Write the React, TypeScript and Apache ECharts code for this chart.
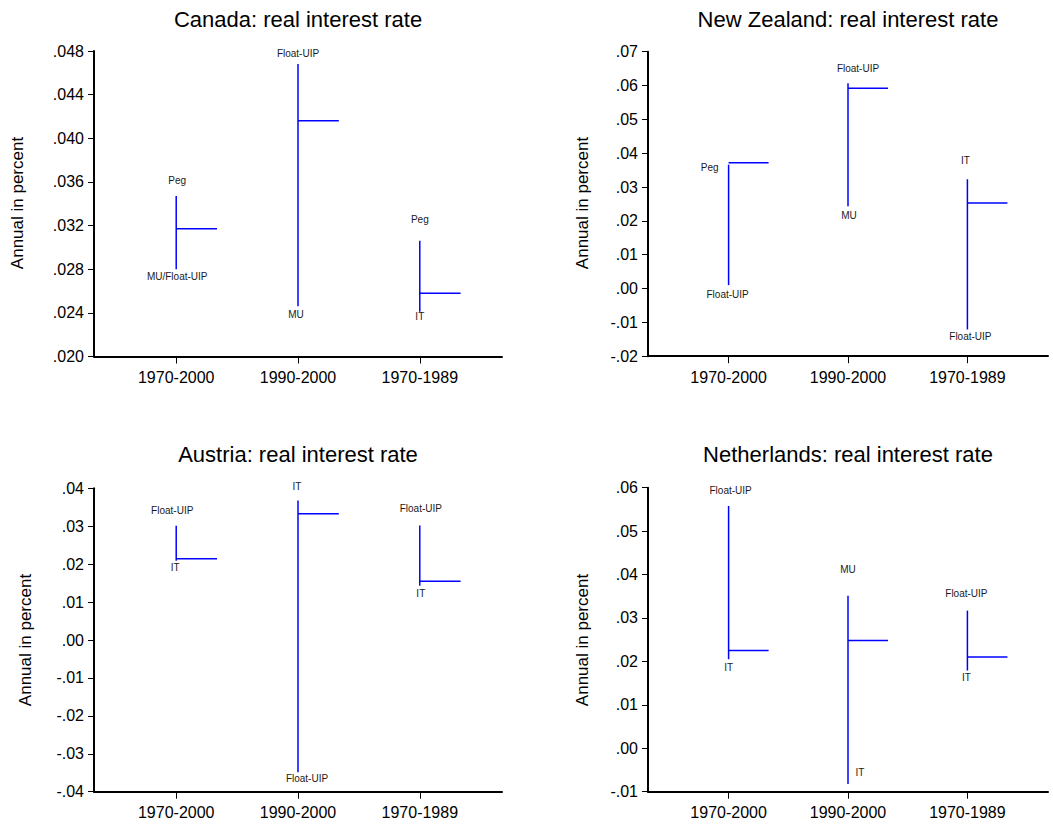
import React, { useEffect, useRef } from "react";
import * as echarts from "echarts";

const categories = ["1970-2000", "1990-2000", "1970-1989"];

const canadaHigh = [0.0347, 0.0468, 0.0306];
const canadaLow = [0.028, 0.0246, 0.0241];
const canadaClose = [0.0317, 0.0416, 0.0258];
const canadaTop = ["Peg", "Float-UIP", "Peg"];
const canadaBottom = ["MU/Float-UIP", "MU", "IT"];

const nzHigh = [0.0366, 0.0607, 0.0323];
const nzLow = [0.001, 0.0243, -0.0121];
const nzClose = [0.0372, 0.0592, 0.0253];
const nzTop = ["Peg", "Float-UIP", "IT"];
const nzBottom = ["Float-UIP", "MU", "Float-UIP"];

const austriaHigh = [0.0301, 0.0368, 0.0302];
const austriaLow = [0.0209, -0.0349, 0.0143];
const austriaClose = [0.0214, 0.0333, 0.0155];
const austriaTop = ["Float-UIP", "IT", "Float-UIP"];
const austriaBottom = ["IT", "Float-UIP", "IT"];

const nlHigh = [0.0558, 0.0351, 0.0317];
const nlLow = [0.0205, -0.0082, 0.0179];
const nlClose = [0.0225, 0.0248, 0.021];
const nlTop = ["Float-UIP", "MU", "Float-UIP"];
const nlBottom = ["IT", "IT", "IT"];

const titles = [
  "Canada: real interest rate",
  "New Zealand: real interest rate",
  "Austria: real interest rate",
  "Netherlands: real interest rate",
];
const yName = "Annual in percent";
const yRanges = [
  { min: 0.02, max: 0.048, interval: 0.004, digits: 3 },
  { min: -0.02, max: 0.07, interval: 0.01, digits: 2 },
  { min: -0.04, max: 0.04, interval: 0.01, digits: 2 },
  { min: -0.01, max: 0.06, interval: 0.01, digits: 2 },
];

const panelsData = [
  { high: canadaHigh, low: canadaLow, close: canadaClose, top: canadaTop, bottom: canadaBottom },
  { high: nzHigh, low: nzLow, close: nzClose, top: nzTop, bottom: nzBottom },
  { high: austriaHigh, low: austriaLow, close: austriaClose, top: austriaTop, bottom: austriaBottom },
  { high: nlHigh, low: nlLow, close: nlClose, top: nlTop, bottom: nlBottom },
];

// layout (pixels)
const grids = [
  { left: 94, top: 51, width: 408, height: 305.5 },
  { left: 648, top: 51.7, width: 400, height: 304.5 },
  { left: 94, top: 488.3, width: 408, height: 303.4 },
  { left: 648, top: 487.7, width: 400, height: 304 },
];
const titlePos = [
  [298, 19],
  [848, 19],
  [298, 454],
  [848, 454],
];
const yNamePos = [
  [17, 203],
  [582, 203],
  [25, 640],
  [582, 640],
];
const topOffsets = [
  [[1, -16], [0, -11], [0, -21]],
  [[-19, 3], [10, -15], [-2, -19]],
  [[-4, -15], [-1, -14], [1, -17]],
  [[2, -15], [0, -26], [-1, -17]],
];
const bottomOffsets = [
  [[1, 7], [-2, 8], [0, 5]],
  [[-1, 9], [1, 9], [3, 7]],
  [[-1, 7], [9, 6], [1, 8]],
  [[0, 8], [12, -11], [-1, 7]],
];

const FONT = "'Liberation Sans', Arial, Helvetica, sans-serif";
const BLUE = "#0000ff";
const TICK_LEN = 0.335;

function fmtY(v: number, digits: number) {
  const s = Math.abs(v).toFixed(digits).replace(/^0/, "");
  return (v < -1e-9 ? "-" : "") + s;
}

export default function App() {
  const ref = useRef<HTMLDivElement>(null);
  useEffect(() => {
    if (!ref.current) return;
    const chart = echarts.init(ref.current, undefined, { renderer: "svg" });

    const xAxis: any[] = [];
    const yAxis: any[] = [];
    const series: any[] = [];
    const graphic: any[] = [];

    panelsData.forEach((pd, p) => {
      xAxis.push({
        type: "value",
        gridIndex: p,
        min: -0.675,
        max: 2.675,
        axisLine: { onZero: false, lineStyle: { color: "#000", width: 2 } },
        axisTick: { customValues: [0, 1, 2], length: 7, lineStyle: { color: "#000", width: 1 } },
        axisLabel: {
          customValues: [0, 1, 2],
          formatter: (v: number) => categories[Math.round(v)] ?? "",
          margin: 13,
          fontSize: 16,
          fontFamily: FONT,
          color: "#000",
        },
        splitLine: { show: false },
      });
      const yr = yRanges[p];
      yAxis.push({
        type: "value",
        gridIndex: p,
        min: yr.min,
        max: yr.max,
        interval: yr.interval,
        axisLine: { show: true, onZero: false, lineStyle: { color: "#000", width: 2 } },
        axisTick: { show: true, length: 6, lineStyle: { color: "#000", width: 1 } },
        axisLabel: {
          formatter: (v: number) => fmtY(v, yr.digits),
          margin: 10,
          fontSize: 16,
          fontFamily: FONT,
          color: "#000",
        },
        splitLine: { show: false },
      });
      const data = categories.map((_, i) => [i, pd.low[i], pd.high[i], pd.close[i]]);
      series.push({
        type: "custom",
        xAxisIndex: p,
        yAxisIndex: p,
        data,
        encode: { x: 0, y: [1, 2, 3] },
        renderItem: (params: any, api: any) => {
          const i = params.dataIndex;
          const x = api.value(0);
          const lo = api.value(1);
          const hi = api.value(2);
          const cl = api.value(3);
          const pLo = api.coord([x, lo]);
          const pHi = api.coord([x, hi]);
          const pCl = api.coord([x, cl]);
          const pEnd = api.coord([x + TICK_LEN, cl]);
          const to = topOffsets[p][i];
          const bo = bottomOffsets[p][i];
          const txt = (t: string, px: number, py: number) => ({
            type: "text",
            x: px,
            y: py,
            style: {
              text: t,
              align: "center",
              verticalAlign: "middle",
              textAlign: "center",
              textVerticalAlign: "middle",
              fontSize: 10,
              fontFamily: FONT,
              fill: "#1a1a1a",
            },
          });
          return {
            type: "group",
            children: [
              {
                type: "line",
                shape: { x1: pLo[0], y1: pLo[1], x2: pHi[0], y2: pHi[1] },
                style: { stroke: BLUE, lineWidth: 1.5 },
              },
              {
                type: "line",
                shape: { x1: pCl[0], y1: pCl[1], x2: pEnd[0], y2: pEnd[1] },
                style: { stroke: BLUE, lineWidth: 1.5 },
              },
              txt(pd.top[i], pHi[0] + to[0], pHi[1] + to[1]),
              txt(pd.bottom[i], pLo[0] + bo[0], pLo[1] + bo[1]),
            ],
          };
        },
      });
      graphic.push({
        type: "text",
        x: titlePos[p][0],
        y: titlePos[p][1],
        style: {
          text: titles[p],
          align: "center",
          verticalAlign: "middle",
          textAlign: "center",
          textVerticalAlign: "middle",
          fontSize: 22,
          fontFamily: FONT,
          fill: "#000",
        },
      });
      graphic.push({
        type: "text",
        x: yNamePos[p][0],
        y: yNamePos[p][1],
        rotation: Math.PI / 2,
        style: {
          text: yName,
          align: "center",
          verticalAlign: "middle",
          textAlign: "center",
          textVerticalAlign: "middle",
          fontSize: 17,
          fontFamily: FONT,
          fill: "#000",
        },
      });
    });

    chart.setOption({
      animation: false,
      backgroundColor: "#fff",
      grid: grids.map((g) => ({ ...g, containLabel: false })),
      xAxis,
      yAxis,
      series,
      graphic,
    });
    return () => chart.dispose();
  }, []);
  return (
    <div
      ref={ref}
      style={{ position: "fixed", left: 0, top: 0, width: 1053, height: 828, background: "#fff" }}
    />
  );
}
